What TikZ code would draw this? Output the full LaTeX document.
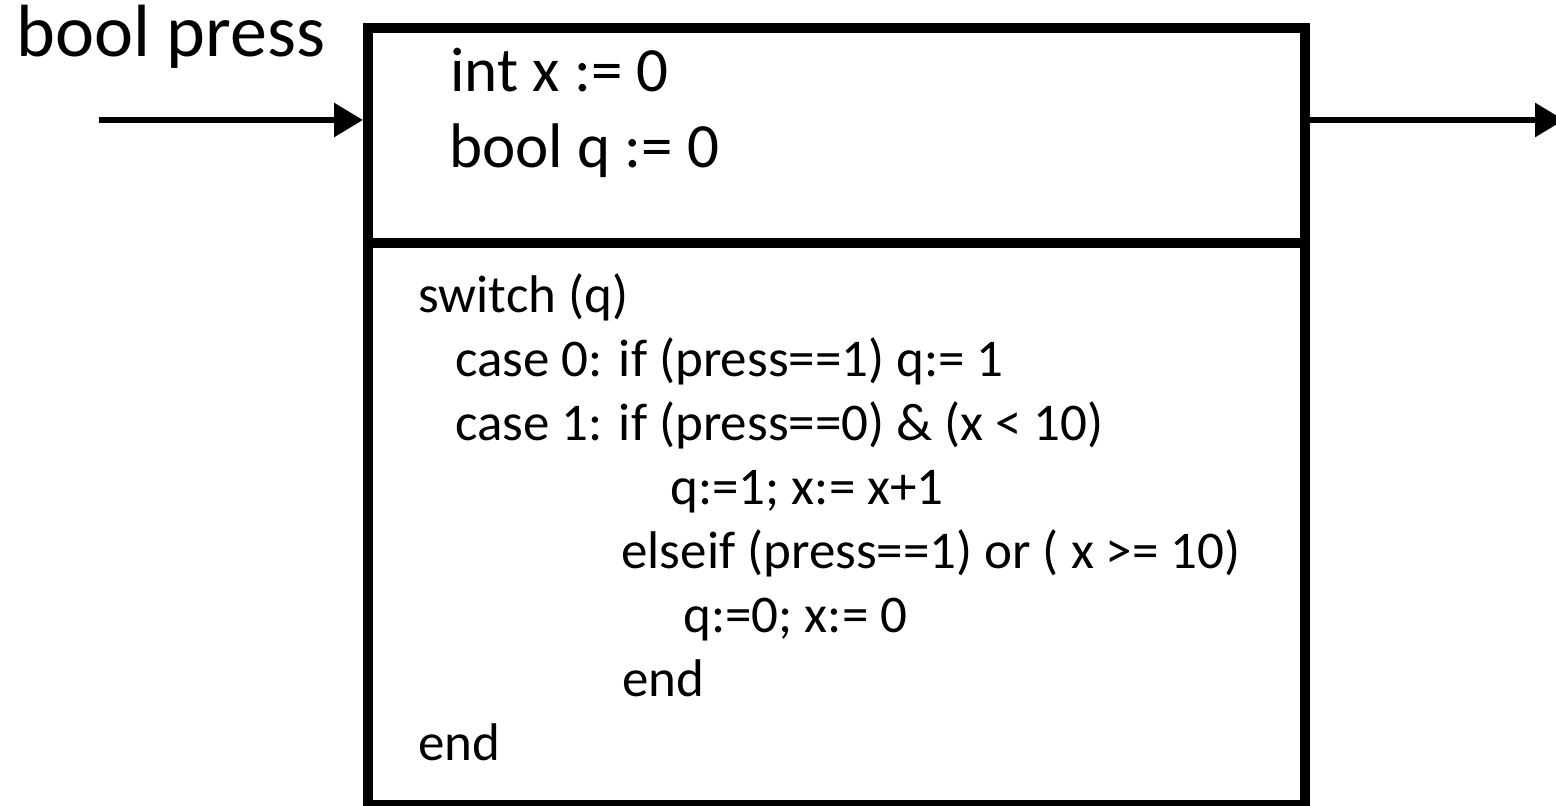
\documentclass[tikz,border=0pt]{standalone}
\usepackage{fontspec}
\setmainfont{Carlito}
\usetikzlibrary{arrows.meta}

\tikzset{
  block/.style={draw, line width=5pt, minimum width=468.5pt, inner sep=0pt},
  flow/.style={line width=3pt, -{Triangle[length=14.5pt,width=16.5pt]}},
  txt/.style={anchor=base west, inner sep=0pt},
}

\begin{document}
\begin{tikzpicture}[x=0.5pt,y=-0.5pt]
\useasboundingbox (0,0) rectangle (1556,806);
% the block: declarations on top, update code below
\node[block, minimum height=107.5pt, anchor=north west] (decl) at (363,23) {};
\node[block, minimum height=281pt, anchor=north west] (body) at (363,238) {};

% input and output signals
\coordinate (in) at (99,120);
\coordinate (out) at (1564,120);
\draw[flow] (in) -- (in -| decl.west);
\draw[flow] (in -| decl.east) -- (out);
\node[txt, font=\fontsize{37pt}{44pt}\selectfont] (press) at (16,57) {bool press};

% state variables
\node[txt, font=\fontsize{31.5pt}{36pt}\selectfont] (varx) at (450,92) {int x := 0};
\node[txt, font=\fontsize{31.5pt}{36pt}\selectfont] (varq) at (449,168) {bool q := 0};

% code lines
\foreach \i/\x/\line in {
    1/418/switch (q),
    2/455/case 0: if (press==1) q:= 1,
    3/455/case 1: if (press==0) \& (x < 10),
    4/670/q:=1; x:= x+1,
    5/621/elseif (press==1) or ( x >= 10),
    6/683/q:=0; x:= 0,
    7/622/end,
    8/418/end
} {
    \node[txt, font=\fontsize{26.5pt}{32pt}\selectfont] (code-\i) at (\x,313+63.9*\i-63.9) {\line};
}
\end{tikzpicture}
\end{document}
